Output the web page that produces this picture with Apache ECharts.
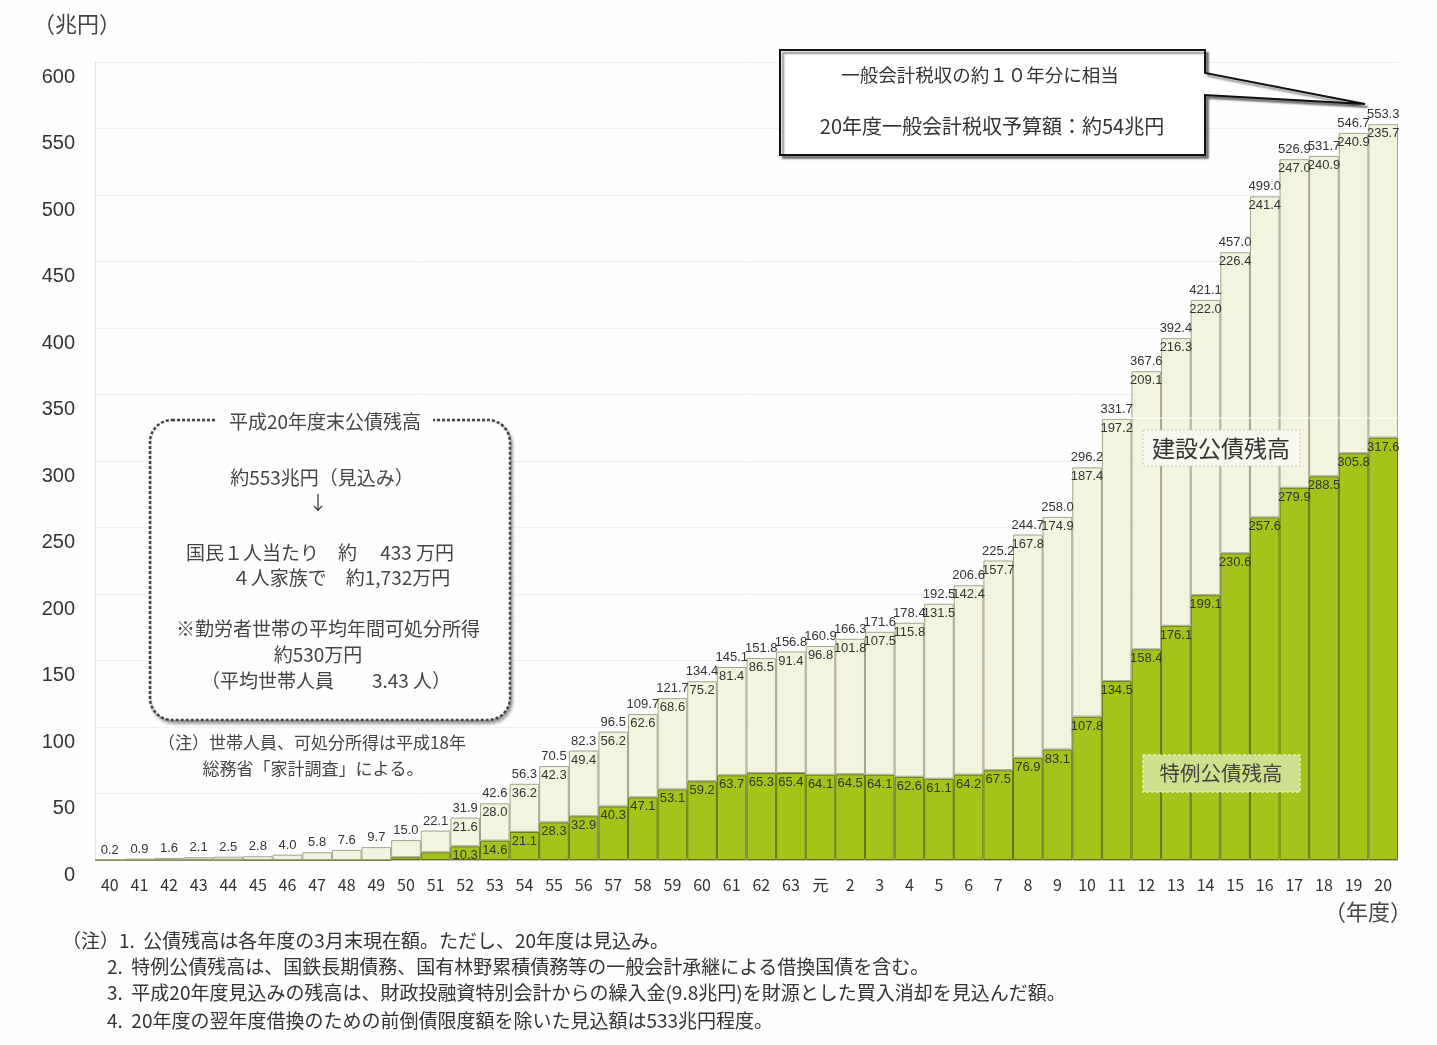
<!DOCTYPE html>
<html lang="ja">
<head>
<meta charset="utf-8">
<title>公債残高の推移</title>
<script src="https://cdn.jsdelivr.net/npm/echarts@6/dist/echarts.min.js"></script>
<style>
  html, body { margin: 0; padding: 0; background: #fdfefd; }
  #chart { width: 1437px; height: 1045px; }
</style>
</head>
<body>
<div id="chart"></div>
<script>
// 年度（昭和40年度〜平成20年度）
const years = ['40','41','42','43','44','45','46','47','48','49','50','51','52','53','54','55','56','57','58','59','60','61','62','63','元','2','3','4','5','6','7','8','9','10','11','12','13','14','15','16','17','18','19','20'];

// 公債残高 合計（兆円）
const totals = [0.2,0.9,1.6,2.1,2.5,2.8,4.0,5.8,7.6,9.7,15.0,22.1,31.9,42.6,56.3,70.5,82.3,96.5,109.7,121.7,134.4,145.1,151.8,156.8,160.9,166.3,171.6,178.4,192.5,206.6,225.2,244.7,258.0,296.2,331.7,367.6,392.4,421.1,457.0,499.0,526.9,531.7,546.7,553.3];

// 建設公債残高（兆円）
const construction = [0.0,0.7,1.4,1.9,2.3,2.8,4.0,5.8,7.6,9.7,12.9,16.3,21.6,28.0,36.2,42.3,49.4,56.2,62.6,68.6,75.2,81.4,86.5,91.4,96.8,101.8,107.5,115.8,131.5,142.4,157.7,167.8,174.9,187.4,197.2,209.1,216.3,222.0,226.4,241.4,247.0,240.9,240.9,235.7];

// 特例公債残高（兆円）
const special = [0.2,0.2,0.2,0.2,0.2,0,0,0,0,0,2.1,5.8,10.3,14.6,21.1,28.3,32.9,40.3,47.1,53.1,59.2,63.7,65.3,65.4,64.1,64.5,64.1,62.6,61.1,64.2,67.5,76.9,83.1,107.8,134.5,158.4,176.1,199.1,230.6,257.6,279.9,288.5,305.8,317.6];

// 内訳の数値を表示し始める年度（昭和52年度）
const firstSplitLabel = years.indexOf('52');

const JP = '"Noto Sans CJK JP", "Noto Sans", sans-serif';
const NUM = '"Liberation Sans", Arial, sans-serif';
const BG = '#fdfefd';

const chart = echarts.init(document.getElementById('chart'), null, { renderer: 'canvas' });

const segLabel = {
  show: true,
  position: 'insideTop',
  distance: 3,
  fontFamily: NUM,
  fontSize: 13,
  color: '#333',
  formatter: p => (p.dataIndex >= firstSplitLabel ? p.value.toFixed(1) : '')
};

const noteLines = [
  { x: 62,  y: 942,  t: '（注）1.  公債残高は各年度の3月末現在額。ただし、20年度は見込み。' },
  { x: 107, y: 968,  t: '2.  特例公債残高は、国鉄長期債務、国有林野累積債務等の一般会計承継による借換国債を含む。' },
  { x: 107, y: 994,  t: '3.  平成20年度見込みの残高は、財政投融資特別会計からの繰入金(9.8兆円)を財源とした買入消却を見込んだ額。' },
  { x: 107, y: 1022, t: '4.  20年度の翌年度借換のための前倒債限度額を除いた見込額は533兆円程度。' }
];

const boxLines = [
  { x: 322, y: 478, t: '約553兆円（見込み）' },
  { x: 318, y: 503, t: '↓' },
  { x: 320, y: 553, t: '国民１人当たり　約　 433 万円' },
  { x: 341, y: 578, t: '４人家族で　約1,732万円' },
  { x: 328, y: 629, t: '※勤労者世帯の平均年間可処分所得' },
  { x: 318, y: 655, t: '約530万円' },
  { x: 326, y: 681, t: '（平均世帯人員　　3.43 人）' }
];

const graphics = [];

// 軸の単位
graphics.push({ type: 'text', left: 33, top: 13, style: { text: '（兆円）', font: '22px ' + JP, fill: '#444' }, silent: true });
graphics.push({ type: 'text', left: 1324, top: 901, style: { text: '（年度）', font: '22px ' + JP, fill: '#444' }, silent: true });

// 脚注
noteLines.forEach(n => graphics.push({
  type: 'text', left: n.x, top: n.y - 11,
  style: { text: n.t, font: '19px ' + JP, fill: '#333' }, silent: true
}));

// 平成20年度末公債残高の囲み
graphics.push({
  type: 'rect', shape: { x: 150, y: 420, width: 360, height: 300, r: 22 },
  style: { fill: BG, stroke: '#444', lineWidth: 2.5, lineDash: [3, 2],
           shadowBlur: 3, shadowOffsetX: 2, shadowOffsetY: 3, shadowColor: 'rgba(0,0,0,0.35)' },
  silent: true, z: 10
});
graphics.push({
  type: 'rect', shape: { x: 152, y: 422, width: 356, height: 296, r: 20 },
  style: { fill: BG }, silent: true, z: 10
});
graphics.push({
  type: 'text', x: 325, y: 422,
  style: { text: '平成20年度末公債残高', font: '19px ' + JP, fill: '#444', align: 'center', verticalAlign: 'middle',
           backgroundColor: BG, padding: [2, 12] },
  silent: true, z: 11
});
boxLines.forEach(b => graphics.push({
  type: 'text', x: b.x, y: b.y,
  style: { text: b.t, font: '19px ' + JP, fill: '#444', align: 'center', verticalAlign: 'middle' },
  silent: true, z: 11
}));
graphics.push({ type: 'text', x: 312, y: 743, style: { text: '（注）世帯人員、可処分所得は平成18年', font: '17px ' + JP, fill: '#444', align: 'center', verticalAlign: 'middle' }, silent: true, z: 11 });
graphics.push({ type: 'text', x: 313, y: 769, style: { text: '総務省「家計調査」による。', font: '17px ' + JP, fill: '#444', align: 'center', verticalAlign: 'middle' }, silent: true, z: 11 });

// 税収との比較の吹き出し
graphics.push({
  type: 'polygon',
  shape: { points: [[780, 50], [1205, 50], [1205, 73], [1365, 104], [1205, 95], [1205, 155], [780, 155]] },
  style: { fill: '#fff', stroke: '#111', lineWidth: 2,
           shadowBlur: 2, shadowOffsetX: 3, shadowOffsetY: 3, shadowColor: 'rgba(0,0,0,0.45)' },
  silent: true, z: 10
});
graphics.push({ type: 'text', x: 980, y: 75, style: { text: '一般会計税収の約１０年分に相当', font: '18.5px ' + JP, fill: '#333', align: 'center', verticalAlign: 'middle' }, silent: true, z: 11 });
graphics.push({ type: 'text', x: 992, y: 126, style: { text: '20年度一般会計税収予算額：約54兆円', font: '20px ' + JP, fill: '#333', align: 'center', verticalAlign: 'middle' }, silent: true, z: 11 });

// 系列名の札
graphics.push({
  type: 'rect', shape: { x: 1143, y: 430, width: 157, height: 36 },
  style: { fill: '#f8f8ec', stroke: '#c9c9b4', lineWidth: 1, lineDash: [2, 2] }, silent: true, z: 10
});
graphics.push({ type: 'text', x: 1221, y: 448, style: { text: '建設公債残高', font: '23px ' + JP, fill: '#333', align: 'center', verticalAlign: 'middle' }, silent: true, z: 11 });
graphics.push({
  type: 'rect', shape: { x: 1143, y: 755, width: 157, height: 37 },
  style: { fill: '#cfe08c', stroke: '#e6efc0', lineWidth: 1.5, lineDash: [3, 2] }, silent: true, z: 10
});
graphics.push({ type: 'text', x: 1221, y: 773, style: { text: '特例公債残高', font: '20.5px ' + JP, fill: '#444', align: 'center', verticalAlign: 'middle' }, silent: true, z: 11 });

// 白い横線
graphics.push({ type: 'line', shape: { x1: 1095, y1: 418, x2: 1398, y2: 418 }, style: { stroke: '#ffffff', lineWidth: 1 }, silent: true, z: 9 });

chart.setOption({
  backgroundColor: BG,
  animation: false,
  grid: { left: 95, right: 39, top: 62, bottom: 185 },
  xAxis: {
    type: 'category',
    data: years,
    axisTick: { show: false },
    axisLine: { lineStyle: { color: '#bdbdbd' } },
    axisLabel: { fontFamily: JP, fontSize: 16, color: '#333', margin: 17 }
  },
  yAxis: {
    type: 'value',
    min: 0, max: 600, interval: 50,
    axisLine: { show: true, lineStyle: { color: '#e2e2e2' } },
    axisTick: { show: false },
    splitLine: { lineStyle: { color: '#efefef' } },
    axisLabel: { fontFamily: NUM, fontSize: 20, color: '#333', margin: 20, verticalAlign: 'top', padding: [5, 0, 0, 0] }
  },
  series: [
    {
      name: '特例公債残高', type: 'bar', stack: 'debt', barCategoryGap: '0%',
      data: special,
      itemStyle: { color: '#a4c41b', borderColor: '#5e7412', borderWidth: 1 },
      label: segLabel, z: 2
    },
    {
      name: '建設公債残高', type: 'bar', stack: 'debt', barCategoryGap: '0%',
      data: construction,
      itemStyle: { color: '#f3f4dd', borderColor: '#a4a48c', borderWidth: 1 },
      label: segLabel, z: 2
    },
    {
      name: '公債残高', type: 'bar', stack: 'debt', barCategoryGap: '0%',
      data: totals.map(() => 0),
      itemStyle: { color: 'transparent', borderWidth: 0 },
      label: {
        show: true, position: 'top', distance: 3,
        fontFamily: NUM, fontSize: 13, color: '#333',
        formatter: p => totals[p.dataIndex].toFixed(1)
      },
      z: 3
    }
  ],
  graphic: graphics
});
</script>
</body>
</html>
